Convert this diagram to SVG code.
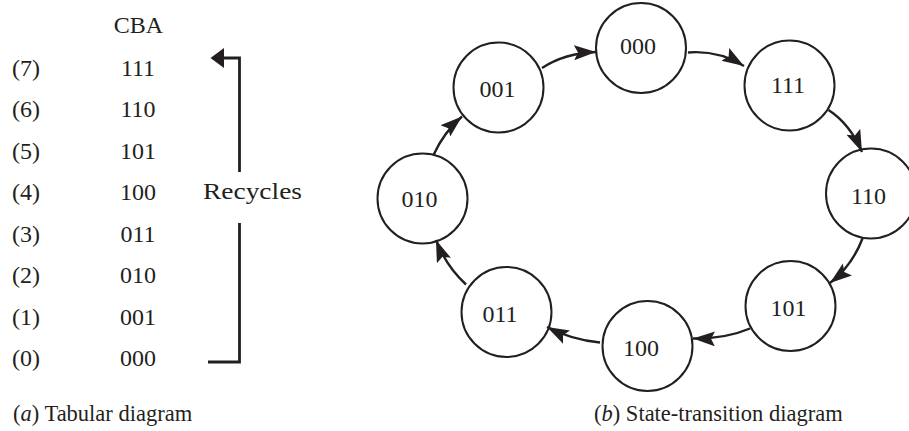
<svg xmlns="http://www.w3.org/2000/svg" width="909" height="431" viewBox="0 0 909 431">
<style>
text{font-family:"Liberation Serif","Times New Roman",serif;font-size:24px;fill:#231f20}
.m{text-anchor:middle}
.cap{font-size:22.5px}
.node circle{fill:#fff;stroke:#231f20;stroke-width:2}
.c{fill:none;stroke:#231f20;stroke-width:2.4}
.b{fill:none;stroke:#231f20;stroke-width:2.8}
</style>
<defs>
<marker id="ah" markerUnits="userSpaceOnUse" markerWidth="24" markerHeight="16" refX="22" refY="7.5" orient="auto">
<path d="M0,0 L22,7.5 L0,15 L4,7.5 z" fill="#231f20"/>
</marker>
</defs>
<rect width="909" height="431" fill="#fff"/>
<g id="table">
<text class="m" x="138.5" y="33">CBA</text>
<text x="12" y="75.5">(7)</text><text class="m" x="138" y="75.5">111</text>
<text x="12" y="117">(6)</text><text class="m" x="138" y="117">110</text>
<text x="12" y="158.5">(5)</text><text class="m" x="138" y="158.5">101</text>
<text x="12" y="200">(4)</text><text class="m" x="138" y="200">100</text>
<text x="12" y="241.5">(3)</text><text class="m" x="138" y="241.5">011</text>
<text x="12" y="283">(2)</text><text class="m" x="138" y="283">010</text>
<text x="12" y="324.5">(1)</text><text class="m" x="138" y="324.5">001</text>
<text x="12" y="366">(0)</text><text class="m" x="138" y="366">000</text>
<text x="203" y="199" font-size="26" textLength="99" lengthAdjust="spacingAndGlyphs">Recycles</text>
</g>
<g id="n000" class="node"><circle cx="641" cy="48" r="45"/><text class="m" x="638" y="54">000</text></g>
<g id="n111" class="node"><circle cx="789.5" cy="85.5" r="45"/><text class="m" x="788" y="92.5">111</text></g>
<g id="n110" class="node"><circle cx="871" cy="193.5" r="45"/><text class="m" x="868.5" y="204">110</text></g>
<g id="n101" class="node"><circle cx="790.5" cy="306" r="45"/><text class="m" x="788.5" y="316">101</text></g>
<g id="n100" class="node"><circle cx="647.5" cy="346" r="45"/><text class="m" x="641" y="356">100</text></g>
<g id="n011" class="node"><circle cx="506.5" cy="312" r="45"/><text class="m" x="500" y="321.5">011</text></g>
<g id="n010" class="node"><circle cx="422.5" cy="198.5" r="45"/><text class="m" x="419.5" y="207">010</text></g>
<g id="n001" class="node"><circle cx="498.5" cy="87.5" r="45"/><text class="m" x="497.5" y="97">001</text></g>
<g id="connectors">
<path class="b" d="M239.5,172 V58 H222"/>
<polygon points="210.5,58 224,48 224,68" fill="#231f20"/>
<path class="b" d="M239.5,223 V362 H208"/>
<path class="c" d="M542,68 Q565,53 596,52" marker-end="url(#ah)"/>
<path class="c" d="M688,52.5 Q718,50 744,66" marker-end="url(#ah)"/>
<path class="c" d="M828.5,110 Q850,124 862,152" marker-end="url(#ah)"/>
<path class="c" d="M862.5,238.5 Q852,266 830,283" marker-end="url(#ah)"/>
<path class="c" d="M750,328.5 Q725,339 693,338.5" marker-end="url(#ah)"/>
<path class="c" d="M600,342.5 Q572,340 547,327" marker-end="url(#ah)"/>
<path class="c" d="M466,284.5 Q446,266 436,240" marker-end="url(#ah)"/>
<path class="c" d="M433.5,155 Q444,132 462,116.5" marker-end="url(#ah)"/>
</g>
<g id="captions">
<text class="cap" x="13" y="421">(<tspan font-style="italic">a</tspan>) Tabular diagram</text>
<text class="cap" x="594" y="421">(<tspan font-style="italic">b</tspan>) State-transition  diagram</text>
</g>
</svg>
